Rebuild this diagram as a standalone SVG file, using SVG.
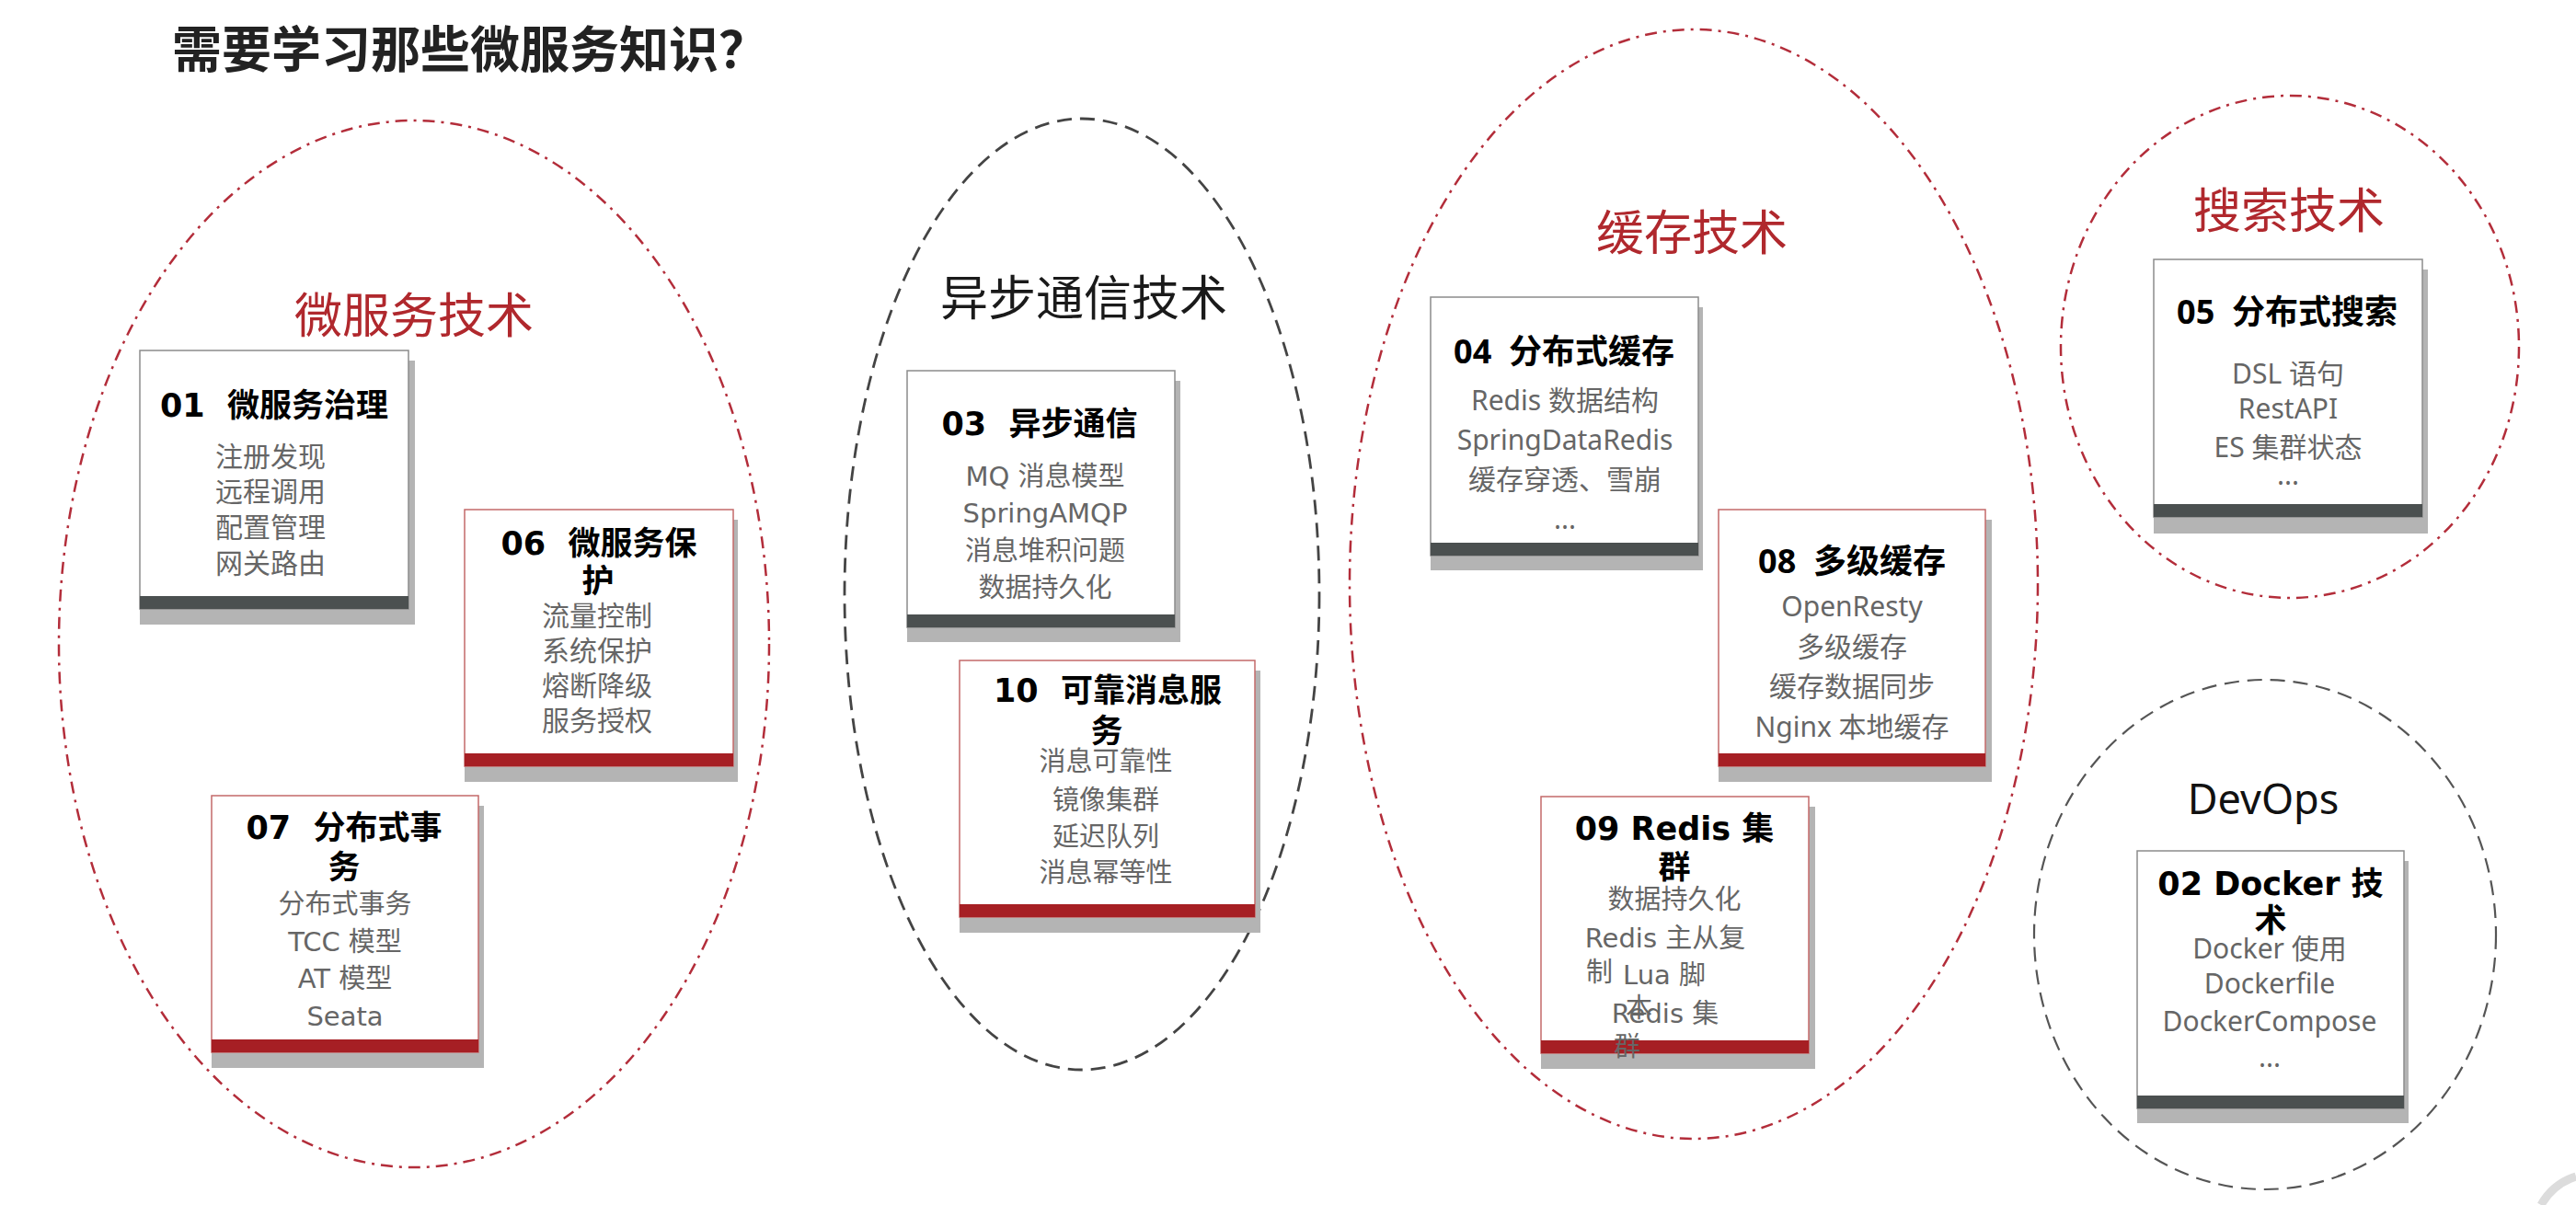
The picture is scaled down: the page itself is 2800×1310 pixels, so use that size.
<svg xmlns="http://www.w3.org/2000/svg" width="2800" height="1310" viewBox="0 0 2800 1310">
<style>
.bg{fill:#ffffff}
.ered{fill:none;stroke:#b32d3a;stroke-width:2.5;stroke-dasharray:13 7 3 7}
.eblk{fill:none;stroke:#444;stroke-width:2.8;stroke-dasharray:16 9}
.egry{fill:none;stroke:#555;stroke-width:2.2;stroke-dasharray:16 9}
.shadow{fill:#b4b4b4}
.card{fill:#fff;stroke:#8c8c8c;stroke-width:1.5}
.cardr{fill:#fff;stroke:#c46a6a;stroke-width:1.5}
.bar{fill:#4b5050}
.barr{fill:#a61f24}
.t{font-family:"DejaVu Sans","Noto Sans CJK SC",sans-serif;font-weight:bold;font-size:35px;fill:#000;text-anchor:middle;white-space:pre}
.tn{font-family:"Noto Sans","Noto Sans CJK SC",sans-serif;font-weight:bold;font-size:36px;fill:#000;text-anchor:middle;white-space:pre}
.b{font-family:"Noto Sans","Noto Sans CJK SC",sans-serif;font-size:30px;fill:#666;text-anchor:middle}
.bd{font-family:"DejaVu Sans","Noto Sans CJK SC",sans-serif;font-size:29px;fill:#666;text-anchor:middle}
.bl{text-anchor:start}
.labr{font-family:"Noto Sans CJK SC",sans-serif;font-size:52px;fill:#b0282d;text-anchor:middle}
.labk{font-family:"Noto Sans CJK SC",sans-serif;font-size:52px;fill:#1a1a1a;text-anchor:middle}
.labd{font-family:"Noto Sans","Noto Sans CJK SC",sans-serif;font-size:45px;fill:#111;text-anchor:middle}
.head{font-family:"Noto Sans CJK SC",sans-serif;font-weight:bold;font-size:54px;fill:#222}
</style>
<rect class="bg" x="0" y="0" width="2800" height="1310"/>

<text class="head" x="187" y="74">需要学习那些微服务知识？</text>

<g id="cluster-microservice">
  <ellipse class="ered" cx="450" cy="700" rx="386" ry="569"/>
  <text class="labr" x="450" y="362">微服务技术</text>
</g>
<g id="cluster-async">
  <ellipse class="eblk" cx="1176" cy="646" rx="258" ry="517"/>
  <text class="labk" x="1178" y="343">异步通信技术</text>
</g>
<g id="cluster-cache">
  <ellipse class="ered" cx="1841" cy="635" rx="374" ry="603"/>
  <text class="labr" x="1839" y="272">缓存技术</text>
</g>
<g id="cluster-search">
  <ellipse class="ered" cx="2489" cy="377" rx="249" ry="273"/>
  <text class="labr" x="2488" y="248">搜索技术</text>
</g>
<g id="cluster-devops">
  <ellipse class="egry" cx="2462" cy="1016" rx="251" ry="277"/>
  <text class="labd" x="2460" y="885">DevOps</text>
</g>

<g id="node-01">
  <rect class="shadow" x="152" y="392" width="299" height="287"/>
  <rect class="card" x="152" y="381" width="292" height="281"/>
  <rect class="bar" x="152" y="648" width="292" height="14"/>
  <text class="t" x="298" y="453">01  微服务治理</text>
  <text class="b" x="294" y="507">注册发现</text>
  <text class="b" x="294" y="545">远程调用</text>
  <text class="b" x="294" y="584">配置管理</text>
  <text class="b" x="294" y="623">网关路由</text>
</g>

<g id="node-06">
  <rect class="shadow" x="505" y="565" width="297" height="285"/>
  <rect class="cardr" x="505" y="554" width="292" height="279"/>
  <rect class="barr" x="505" y="819" width="292" height="14"/>
  <text class="t" x="651" y="603">06  微服务保</text>
  <text class="t" x="650" y="644">护</text>
  <text class="b" x="649" y="680">流量控制</text>
  <text class="b" x="649" y="718">系统保护</text>
  <text class="b" x="649" y="756">熔断降级</text>
  <text class="b" x="649" y="794">服务授权</text>
</g>

<g id="node-07">
  <rect class="shadow" x="230" y="876" width="296" height="285"/>
  <rect class="cardr" x="230" y="865" width="290" height="279"/>
  <rect class="barr" x="230" y="1130" width="290" height="14"/>
  <text class="t" x="374" y="912">07  分布式事</text>
  <text class="t" x="374" y="955">务</text>
  <text class="bd" x="375" y="993">分布式事务</text>
  <text class="bd" x="375" y="1034">TCC 模型</text>
  <text class="bd" x="375" y="1074">AT 模型</text>
  <text class="bd" x="375" y="1115">Seata</text>
</g>

<g id="node-03">
  <rect class="shadow" x="986" y="414" width="297" height="284"/>
  <rect class="card" x="986" y="403" width="291" height="279"/>
  <rect class="bar" x="986" y="668" width="291" height="14"/>
  <text class="t" x="1130" y="473">03  异步通信</text>
  <text class="bd" x="1136" y="528">MQ 消息模型</text>
  <text class="bd" x="1136" y="568">SpringAMQP</text>
  <text class="bd" x="1136" y="609">消息堆积问题</text>
  <text class="bd" x="1136" y="649">数据持久化</text>
</g>

<g id="node-10">
  <rect class="shadow" x="1043" y="729" width="327" height="285"/>
  <rect class="cardr" x="1043" y="718" width="321" height="279"/>
  <rect class="barr" x="1043" y="983" width="321" height="14"/>
  <text class="t" x="1204" y="763">10  可靠消息服</text>
  <text class="t" x="1203" y="807">务</text>
  <text class="bd" x="1202" y="838">消息可靠性</text>
  <text class="bd" x="1202" y="880">镜像集群</text>
  <text class="bd" x="1202" y="920">延迟队列</text>
  <text class="bd" x="1202" y="959">消息幂等性</text>
</g>

<g id="node-04">
  <rect class="shadow" x="1555" y="334" width="296" height="286"/>
  <rect class="card" x="1555" y="323" width="291" height="281"/>
  <rect class="bar" x="1555" y="590" width="291" height="14"/>
  <text class="tn" x="1700" y="395">04  分布式缓存</text>
  <text class="b" x="1701" y="446">Redis 数据结构</text>
  <text class="b" x="1701" y="489">SpringDataRedis</text>
  <text class="b" x="1701" y="532">缓存穿透、雪崩</text>
  <text class="b" x="1701" y="575">...</text>
</g>

<g id="node-08">
  <rect class="shadow" x="1868" y="565" width="297" height="285"/>
  <rect class="cardr" x="1868" y="554" width="290" height="279"/>
  <rect class="barr" x="1868" y="819" width="290" height="14"/>
  <text class="tn" x="2013" y="623">08  多级缓存</text>
  <text class="b" x="2013" y="670">OpenResty</text>
  <text class="b" x="2013" y="714">多级缓存</text>
  <text class="b" x="2013" y="757">缓存数据同步</text>
  <text class="b" x="2013" y="801">Nginx 本地缓存</text>
</g>

<g id="node-09">
  <rect class="shadow" x="1675" y="877" width="298" height="285"/>
  <rect class="cardr" x="1675" y="866" width="291" height="279"/>
  <rect class="barr" x="1675" y="1131" width="291" height="14"/>
  <text class="t" x="1820" y="913">09 Redis 集</text>
  <text class="t" x="1820" y="955">群</text>
  <text class="bd" x="1820" y="988">数据持久化</text>
  <text class="bd" x="1810" y="1030">Redis 主从复</text>
  <text class="bd bl" x="1724" y="1067">制</text>
  <text class="bd" x="1809" y="1070">Lua 脚</text>
  <text class="bd bl" x="1767" y="1106">本</text>
  <text class="bd" x="1810" y="1112">Redis 集</text>
  <text class="bd bl" x="1754" y="1148">群</text>
</g>

<g id="node-05">
  <rect class="shadow" x="2341" y="293" width="298" height="287"/>
  <rect class="card" x="2341" y="282" width="292" height="280"/>
  <rect class="bar" x="2341" y="548" width="292" height="14"/>
  <text class="tn" x="2486" y="352">05  分布式搜索</text>
  <text class="b" x="2487" y="417">DSL 语句</text>
  <text class="b" x="2487" y="455">RestAPI</text>
  <text class="b" x="2487" y="497">ES 集群状态</text>
  <text class="b" x="2487" y="527">...</text>
</g>

<g id="node-02">
  <rect class="shadow" x="2323" y="936" width="295" height="285"/>
  <rect class="card" x="2323" y="925" width="290" height="280"/>
  <rect class="bar" x="2323" y="1191" width="290" height="14"/>
  <text class="t" x="2468" y="973">02 Docker 技</text>
  <text class="t" x="2468" y="1013">术</text>
  <text class="b" x="2467" y="1042">Docker 使用</text>
  <text class="b" x="2467" y="1080">Dockerfile</text>
  <text class="b" x="2467" y="1121">DockerCompose</text>
  <text class="b" x="2467" y="1160">...</text>
</g>

<g id="connectors"></g>

<path d="M2762,1310 Q2775,1287 2800,1279" fill="none" stroke="#dcdcdc" stroke-width="9"/>
</svg>
